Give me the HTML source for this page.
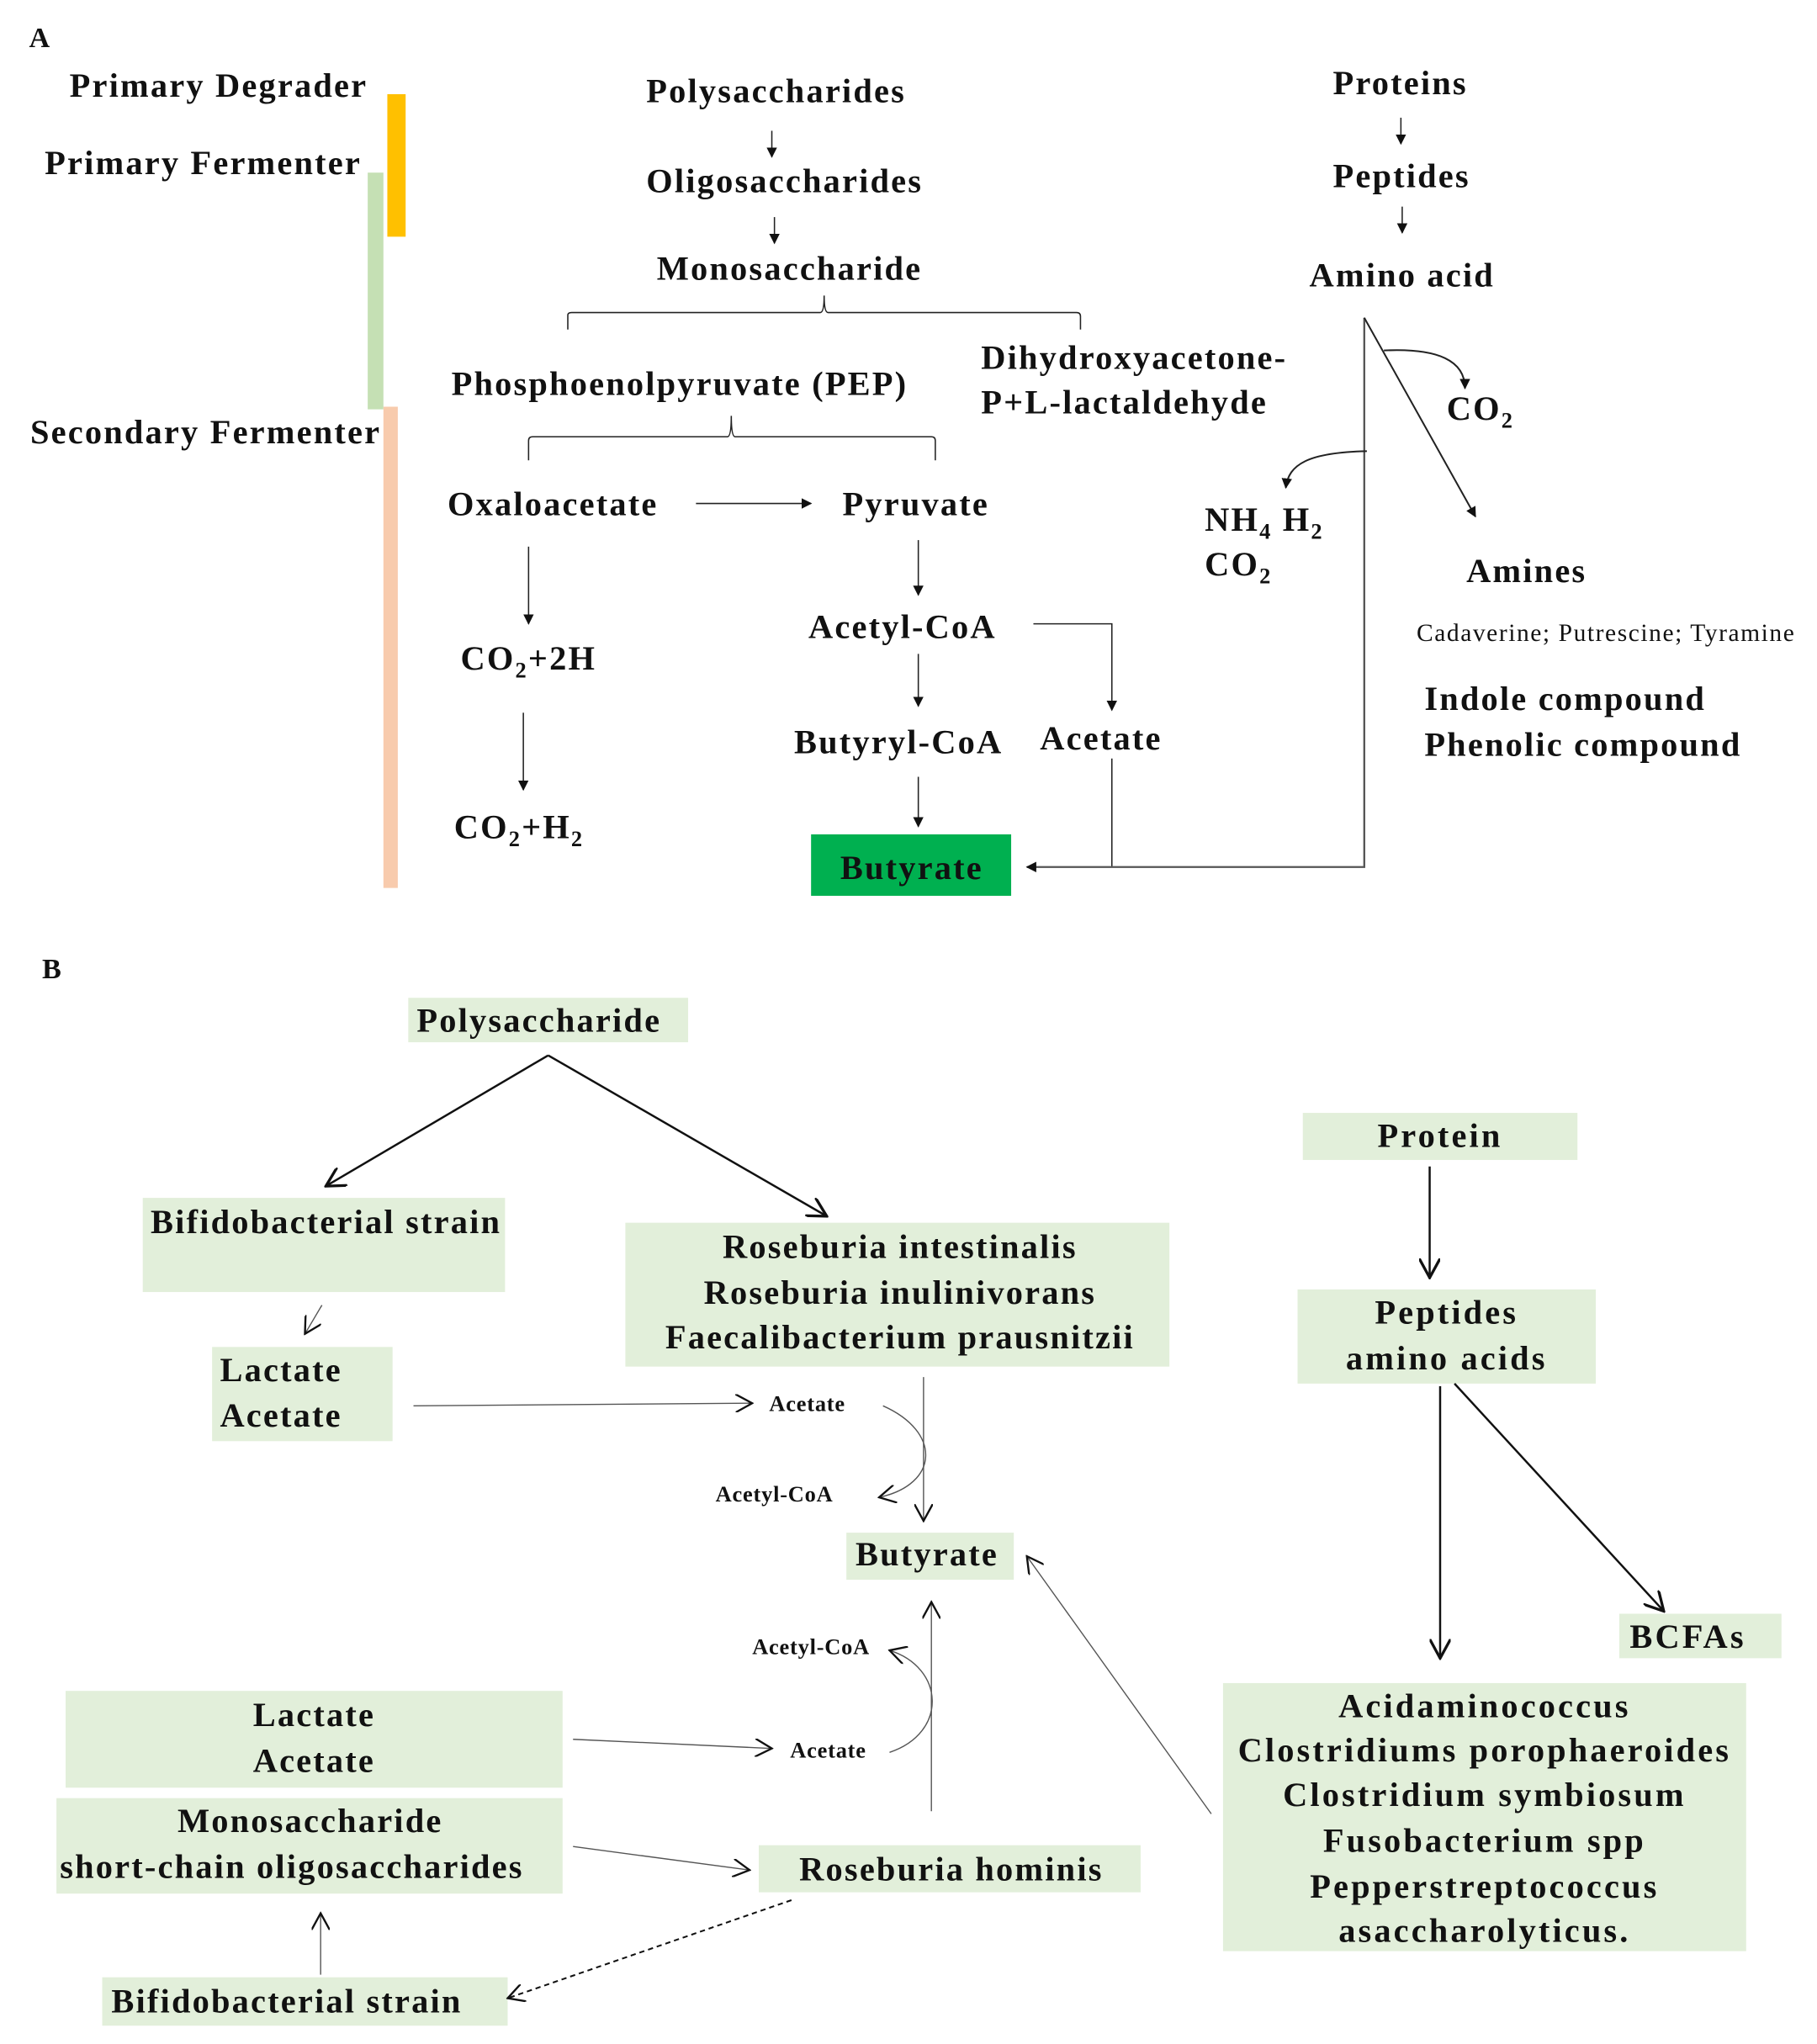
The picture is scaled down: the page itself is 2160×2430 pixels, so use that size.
<!DOCTYPE html>
<html><head><meta charset="utf-8"><style>
html,body{margin:0;padding:0;background:#fff;}
svg{display:block;}
text{font-family:"Liberation Serif",serif;font-weight:bold;fill:#111;}
.t{font-size:26px;letter-spacing:1.4px;}
.s{font-size:17px;letter-spacing:0.5px;}
.box{fill:#E2EFDA;}
</style></head><body>
<svg width="2160" height="2430" viewBox="0 0 1389 1563" xmlns="http://www.w3.org/2000/svg">
<defs>
<marker id="f" viewBox="0 0 10 10" refX="9" refY="5" markerWidth="8" markerHeight="8" markerUnits="userSpaceOnUse" orient="auto"><path d="M0,0 L10,5 L0,10 z" fill="#111"/></marker>
<marker id="o" viewBox="0 0 12 12" refX="11" refY="6" markerWidth="14" markerHeight="14" markerUnits="userSpaceOnUse" orient="auto"><path d="M0,0 L11,6 L0,12" fill="none" stroke="#111" stroke-width="1.3"/></marker>
<marker id="o2" viewBox="0 0 12 12" refX="11" refY="6" markerWidth="16" markerHeight="16" markerUnits="userSpaceOnUse" orient="auto"><path d="M0,0 L11,6 L0,12" fill="none" stroke="#111" stroke-width="1.6"/></marker>
</defs>

<!-- Part A -->
<text x="22" y="36" style="font-size:22px">A</text>
<text class="t" x="53" y="74">Primary Degrader</text>
<text class="t" x="34" y="133">Primary Fermenter</text>
<text class="t" x="23" y="339">Secondary Fermenter</text>
<rect x="296" y="72" width="14" height="109" fill="#FFC000"/>
<rect x="281" y="132" width="12" height="181" fill="#C5E0B4"/>
<rect x="293" y="311" width="11" height="368" fill="#F8CBAD"/>

<g stroke="#222" stroke-width="1" fill="none">
<line x1="590" y1="100" x2="590" y2="120" marker-end="url(#f)"/>
<line x1="592" y1="166" x2="592" y2="186" marker-end="url(#f)"/>
<path d="M434,252 V241 Q434,239 437,239 H627 Q630,239 630,226 Q630,239 633,239 H823 Q826,239 826,242 V252"/>
<path d="M404,352 V337 Q404,334 407,334 H556 Q559,334 559,318 Q559,334 562,334 H712 Q715,334 715,337 V352"/>
<line x1="532" y1="385" x2="620" y2="385" marker-end="url(#f)"/>
<line x1="404" y1="418" x2="404" y2="477" marker-end="url(#f)"/>
<line x1="400" y1="545" x2="400" y2="604" marker-end="url(#f)"/>
<line x1="702" y1="413" x2="702" y2="455" marker-end="url(#f)"/>
<line x1="702" y1="500" x2="702" y2="540" marker-end="url(#f)"/>
<line x1="702" y1="594" x2="702" y2="632" marker-end="url(#f)"/>
<path d="M790,477 H850 V543" marker-end="url(#f)"/>
<line x1="850" y1="580" x2="850" y2="663"/>
<path d="M1043,243 V663 H785" stroke="#555" stroke-width="1.5" marker-end="url(#f)"/>
<line x1="1043" y1="243" x2="1128" y2="395" stroke-width="1.3" marker-end="url(#f)"/>
<path d="M1058,268 C1100,266 1120,276 1120,297" stroke-width="1.3" marker-end="url(#f)"/>
<path d="M1045,345 C1000,346 985,355 983,373" stroke-width="1.3" marker-end="url(#f)"/>
<line x1="1071" y1="90" x2="1071" y2="110" marker-end="url(#f)"/>
<line x1="1072" y1="158" x2="1072" y2="178" marker-end="url(#f)"/>
</g>

<text class="t" x="494" y="78">Polysaccharides</text>
<text class="t" x="494" y="147">Oligosaccharides</text>
<text class="t" x="502" y="214">Monosaccharide</text>
<text class="t" x="345" y="302">Phosphoenolpyruvate (PEP)</text>
<text class="t" x="750" y="282">Dihydroxyacetone-</text>
<text class="t" x="750" y="316">P+L-lactaldehyde</text>
<text class="t" x="342" y="394">Oxaloacetate</text>
<text class="t" x="644" y="394">Pyruvate</text>
<text class="t" x="352" y="512">CO<tspan dy="6" style="font-size:17px">2</tspan><tspan dy="-6">+2H</tspan></text>
<text class="t" x="347" y="641">CO<tspan dy="6" style="font-size:17px">2</tspan><tspan dy="-6">+H</tspan><tspan dy="6" style="font-size:17px">2</tspan></text>
<text class="t" x="618" y="488">Acetyl-CoA</text>
<text class="t" x="607" y="576">Butyryl-CoA</text>
<text class="t" x="795" y="573">Acetate</text>
<rect x="620" y="638" width="153" height="47" fill="#00B050"/>
<text class="t" x="697" y="672" text-anchor="middle">Butyrate</text>
<text class="t" x="1019" y="72">Proteins</text>
<text class="t" x="1019" y="143">Peptides</text>
<text class="t" x="1001" y="219">Amino acid</text>
<text class="t" x="1106" y="321">CO<tspan dy="6" style="font-size:17px">2</tspan></text>
<text class="t" x="921" y="406">NH<tspan dy="6" style="font-size:17px">4</tspan><tspan dy="-6"> H</tspan><tspan dy="6" style="font-size:17px">2</tspan></text>
<text class="t" x="921" y="440">CO<tspan dy="6" style="font-size:17px">2</tspan></text>
<text class="t" x="1121" y="445">Amines</text>
<text x="1083" y="490" style="font-size:19px;font-weight:normal;letter-spacing:1px">Cadaverine; Putrescine; Tyramine</text>
<text class="t" x="1089" y="543">Indole compound</text>
<text class="t" x="1089" y="578">Phenolic compound</text>

<!-- Part B -->
<text x="32" y="748" style="font-size:22px">B</text>
<rect class="box" x="312" y="763" width="214" height="34"/>
<rect class="box" x="109" y="916" width="277" height="72"/>
<rect class="box" x="478" y="935" width="416" height="110"/>
<rect class="box" x="162" y="1030" width="138" height="72"/>
<rect class="box" x="647" y="1172" width="128" height="36"/>
<rect class="box" x="50" y="1293" width="380" height="74"/>
<rect class="box" x="43" y="1375" width="387" height="73"/>
<rect class="box" x="580" y="1411" width="292" height="36"/>
<rect class="box" x="78" y="1512" width="310" height="37"/>
<rect class="box" x="996" y="851" width="210" height="36"/>
<rect class="box" x="992" y="986" width="228" height="72"/>
<rect class="box" x="1238" y="1234" width="124" height="34"/>
<rect class="box" x="935" y="1287" width="400" height="205"/>

<g stroke="#111" fill="none">
<line x1="419" y1="807" x2="249" y2="907" stroke-width="1.6" marker-end="url(#o2)"/>
<line x1="419" y1="807" x2="632" y2="930" stroke-width="1.6" marker-end="url(#o2)"/>
<line x1="246" y1="998" x2="233" y2="1020" stroke-width="0.9" stroke="#555" marker-end="url(#o)"/>
<line x1="316" y1="1075" x2="575" y2="1073" stroke-width="0.9" stroke="#555" marker-end="url(#o)"/>
<line x1="706" y1="1053" x2="706" y2="1163" stroke-width="0.9" stroke="#555" marker-end="url(#o)"/>
<path d="M675,1075 C720,1095 718,1135 672,1145" stroke-width="0.9" stroke="#555" marker-end="url(#o)"/>
<line x1="712" y1="1385" x2="712" y2="1225" stroke-width="0.9" stroke="#555" marker-end="url(#o)"/>
<path d="M680,1340 C725,1325 722,1275 680,1262" stroke-width="0.9" stroke="#555" marker-end="url(#o)"/>
<line x1="438" y1="1330" x2="590" y2="1337" stroke-width="0.9" stroke="#555" marker-end="url(#o)"/>
<line x1="438" y1="1412" x2="573" y2="1430" stroke-width="0.9" stroke="#555" marker-end="url(#o)"/>
<line x1="605" y1="1453" x2="388" y2="1528" stroke-width="1.3" stroke-dasharray="4,3" marker-end="url(#o)"/>
<line x1="245" y1="1510" x2="245" y2="1463" stroke-width="0.9" stroke="#555" marker-end="url(#o)"/>
<line x1="926" y1="1387" x2="785" y2="1190" stroke-width="0.9" stroke="#555" marker-end="url(#o)"/>
<line x1="1093" y1="892" x2="1093" y2="977" stroke-width="1.6" marker-end="url(#o2)"/>
<line x1="1101" y1="1060" x2="1101" y2="1268" stroke-width="1.6" marker-end="url(#o2)"/>
<line x1="1112" y1="1058" x2="1272" y2="1232" stroke-width="1.6" marker-end="url(#o2)"/>
</g>

<text class="t" x="412" y="789" text-anchor="middle">Polysaccharide</text>
<text class="t" x="115" y="943">Bifidobacterial strain</text>
<text class="t" x="688" y="962" text-anchor="middle">Roseburia intestinalis</text>
<text class="t" x="688" y="997" text-anchor="middle">Roseburia inulinivorans</text>
<text class="t" x="688" y="1031" text-anchor="middle">Faecalibacterium prausnitzii</text>
<text class="t" x="168" y="1056">Lactate</text>
<text class="t" x="168" y="1091">Acetate</text>
<text class="s" x="588" y="1079">Acetate</text>
<text class="s" x="547" y="1148">Acetyl-CoA</text>
<text class="t" x="654" y="1197">Butyrate</text>
<text class="s" x="575" y="1265">Acetyl-CoA</text>
<text class="s" x="604" y="1344">Acetate</text>
<text class="t" x="240" y="1320" text-anchor="middle">Lactate</text>
<text class="t" x="240" y="1355" text-anchor="middle">Acetate</text>
<text class="t" x="237" y="1401" text-anchor="middle">Monosaccharide</text>
<text class="t" x="223" y="1436" text-anchor="middle">short-chain oligosaccharides</text>
<text class="t" x="611" y="1438">Roseburia hominis</text>
<text class="t" x="85" y="1539">Bifidobacterial strain</text>
<text class="t" x="1101" y="877" text-anchor="middle" style="letter-spacing:2px">Protein</text>
<text class="t" x="1106" y="1012" text-anchor="middle" style="letter-spacing:2px">Peptides</text>
<text class="t" x="1106" y="1047" text-anchor="middle" style="letter-spacing:2px">amino acids</text>
<text class="t" x="1246" y="1260" style="letter-spacing:2px">BCFAs</text>
<text class="t" x="1135" y="1313" text-anchor="middle" style="letter-spacing:2px">Acidaminococcus</text>
<text class="t" x="1135" y="1347" text-anchor="middle" style="letter-spacing:2px">Clostridiums porophaeroides</text>
<text class="t" x="1135" y="1381" text-anchor="middle" style="letter-spacing:2px">Clostridium symbiosum</text>
<text class="t" x="1135" y="1416" text-anchor="middle" style="letter-spacing:2px">Fusobacterium spp</text>
<text class="t" x="1135" y="1451" text-anchor="middle" style="letter-spacing:2px">Pepperstreptococcus</text>
<text class="t" x="1135" y="1485" text-anchor="middle" style="letter-spacing:2px">asaccharolyticus.</text>
</svg>
</body></html>
